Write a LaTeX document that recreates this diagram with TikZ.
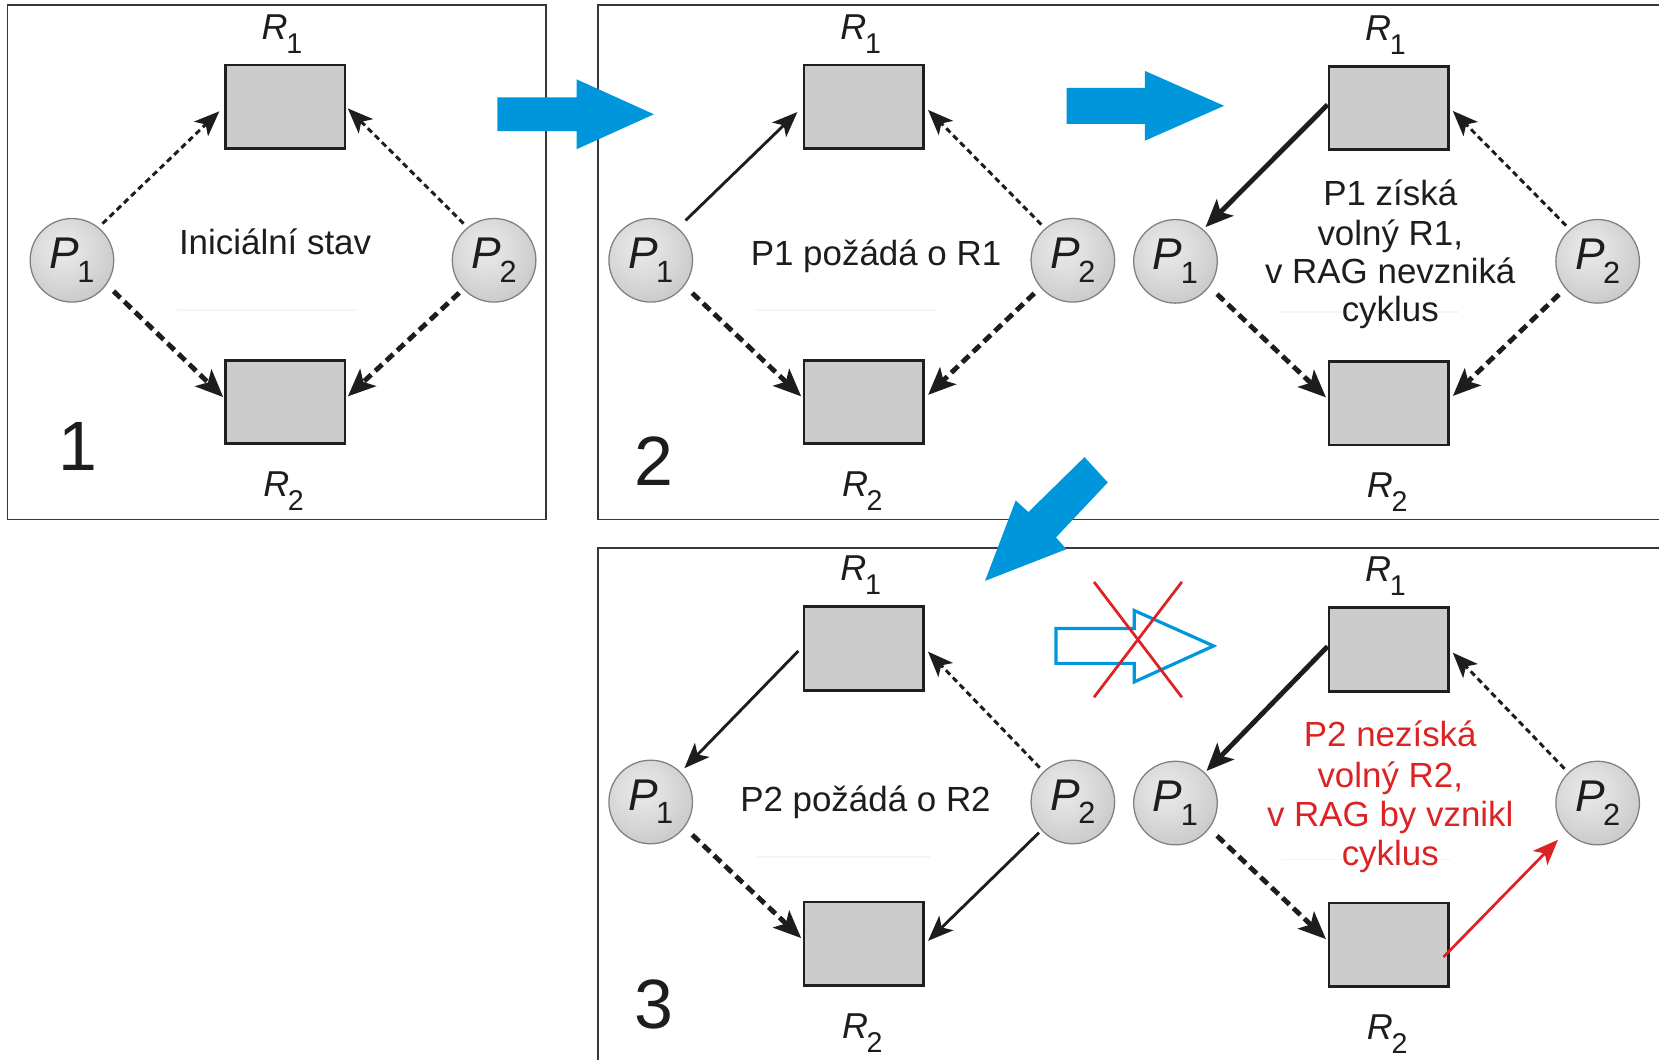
\documentclass[tikz,border=0pt]{standalone}
\usepackage{fontspec}
\setmainfont{Liberation Sans}
\usetikzlibrary{arrows.meta}
\definecolor{arrblue}{RGB}{0,150,219}
\definecolor{xred}{RGB}{220,35,35}
\definecolor{boxfill}{gray}{0.80}
\definecolor{framecol}{gray}{0.22}
\definecolor{inkcol}{RGB}{30,28,28}
\definecolor{sphA}{gray}{0.92}
\definecolor{sphB}{gray}{0.87}
\definecolor{sphC}{gray}{0.79}
\definecolor{sphD}{gray}{0.70}
\definecolor{sphE}{gray}{0.64}
\definecolor{sphO}{gray}{0.50}
\pgfdeclareradialshading{sphere}{\pgfpoint{-6bp}{8bp}}{color(0bp)=(sphA); color(14bp)=(sphB); color(32bp)=(sphC); color(48bp)=(sphD); color(62bp)=(sphE); color(90bp)=(sphE)}
\newcommand{\Plbl}[1]{{\fontsize{21}{21}\selectfont\itshape P}\kern-0.8pt\raisebox{-6.3pt}{\fontsize{14.5}{14.5}\selectfont #1}}
\newcommand{\Rlbl}[1]{{\fontsize{17}{17}\selectfont\itshape R}\kern-0.6pt\raisebox{-6.6pt}{\fontsize{13.5}{13.5}\selectfont #1}}
\begin{document}
\begin{tikzpicture}[x=0.5pt,y=-0.5pt,
  proc/.style={circle, minimum size=39.5pt, inner sep=0pt, draw=sphO, line width=0.6pt, shading=sphere, text=inkcol},
  res/.style={rectangle, minimum width=56.5pt, minimum height=39.5pt, inner sep=0pt, draw=black!88, line width=1.3pt, fill=boxfill},
  lbl/.style={inner sep=0pt, anchor=base, text=inkcol},
  txt/.style={inner sep=0pt, anchor=base, font=\fontsize{16.5}{18}\selectfont, text=inkcol},
  redtxt/.style={txt, text=xred},
  digit/.style={inner sep=0pt, anchor=base, font=\fontsize{33}{33}\selectfont, text=inkcol},
  frame/.style={draw=framecol, line width=0.75pt},
  faint/.style={draw=gray!8, line width=0.6pt},
  tipthin/.style={-{Stealth[length=12pt,width=9.5pt,inset=3pt]}},
  tipthick/.style={-{Stealth[length=13pt,width=11pt,inset=3pt]}},
  cthin/.style={tipthin, draw=inkcol, line width=1.4pt, dash pattern=on 2.8pt off 1.9pt},
  cthick/.style={tipthick, draw=inkcol, line width=2.3pt, dash pattern=on 4.5pt off 2.6pt},
  rthin/.style={tipthin, draw=inkcol, line width=1.35pt},
  athick/.style={tipthick, draw=inkcol, line width=2.3pt},
  redarr/.style={-{Stealth[length=12pt,width=9.5pt,inset=3pt]}, line width=1.3pt, draw=xred, color=xred}
]
\path[use as bounding box] (0,0) rectangle (1568,1001);
\clip (0,0) rectangle (1568,1001);

% frames
\draw[frame] (7,5) rectangle (516,491);
\draw[frame] (565,5) rectangle (1600,491);
\draw[frame] (565,518) rectangle (1600,1040);

% faint lines
\draw[faint] (167,293) -- (337,293);
\draw[faint] (714,293) -- (885,293);
\draw[faint] (1211,295) -- (1379,295);
\draw[faint] (714,810) -- (879,810);
\draw[faint] (1211,812) -- (1371,812);

% diagrams: nodes
\foreach \n/\x/\y in {a/68/246, b/615/246, c/1111/247, d/615/758, e/1111/759} {
  \node[proc] (\n-P1) at (\x,\y) {\Plbl{1}};
  \node[proc] (\n-P2) at (\x+399,\y) {\Plbl{2}};
  \node[res] (\n-R1) at (\x+201.5,\y-145) {};
  \node[res] (\n-R2) at (\x+201.5,\y+134) {};
  \node[lbl] (\n-L1) at (\x+198.5,\y-209) {\Rlbl{1}};
  \node[lbl] (\n-L2) at (\x+200,\y+223.6) {\Rlbl{2}};
}

% panel 1
\draw[cthin, shorten <=2.5pt, shorten >=3pt] (a-P1.51) -- (a-R1.west);
\draw[cthin, shorten <=2.5pt, shorten >=1pt] (a-P2.129) -- (a-R1.east);
\draw[cthick, shorten <=4.5pt, shorten >=0.5pt] (a-P1.-35) -- ([yshift=2pt]a-R2.west);
\draw[cthick, shorten <=2.5pt, shorten >=1pt] (a-P2.223) -- ([yshift=2pt]a-R2.east);

% panel 2 left
\draw[rthin, shorten <=5pt, shorten >=3.5pt] (b-P1.50) -- (b-R1.west);
\draw[cthin, shorten <=2.5pt, shorten >=2pt] (b-P2.131) -- (b-R1.east);
\draw[cthick, shorten <=5pt, shorten >=1pt] (b-P1.-37) -- ([yshift=2pt]b-R2.west);
\draw[cthick, shorten <=4pt, shorten >=2pt] (b-P2.220) -- ([yshift=2pt]b-R2.east);

% panel 2 right
\draw[athick, shorten >=1.5pt] ([yshift=1.5pt]c-R1.west) -- (c-P1.49);
\draw[cthin, shorten <=2.5pt, shorten >=2pt] (c-P2.131) -- (c-R1.east);
\draw[cthick, shorten <=5pt, shorten >=1pt] (c-P1.-37) -- ([yshift=2pt]c-R2.west);
\draw[cthick, shorten <=4pt, shorten >=2pt] (c-P2.220) -- ([yshift=2pt]c-R2.east);

% panel 3 left
\draw[rthin, shorten <=3pt, shorten >=2.5pt] ([yshift=1pt]d-R1.west) -- (d-P1.45);
\draw[cthin, shorten <=2.5pt, shorten >=2pt] (d-P2.134) -- (d-R1.east);
\draw[cthick, shorten <=5pt, shorten >=1pt] (d-P1.-37) -- ([yshift=2pt]d-R2.west);
\draw[rthin, shorten <=1.5pt, shorten >=2pt] (d-P2.222) -- (d-R2.east);

% panel 3 right
\draw[athick, shorten >=1pt] ([yshift=1.5pt]e-R1.west) -- (e-P1.46);
\draw[cthin, shorten <=2.5pt, shorten >=2pt] (e-P2.134) -- (e-R1.east);
\draw[cthick, shorten <=5pt, shorten >=1pt] (e-P1.-37) -- ([yshift=2pt]e-R2.west);
\draw[redarr, shorten >=5.5pt] ([shift={(-3pt,-5.75pt)}]e-R2.east) -- (e-P2.222);

% texts
\node[txt] (t1) at (260,241) {Iniciální stav};
\node[txt] (t2) at (828,250.5) {P1 požádá o R1};
\node[txt] (t3a) at (1314,194) {P1 získá};
\node[txt] (t3b) at (1314,231.6) {volný R1,};
\node[txt] (t3c) at (1314,268) {v RAG nevzniká};
\node[txt] (t3d) at (1314,304) {cyklus};
\node[txt] (t4) at (818,767) {P2 požádá o R2};
\node[redtxt] (t5a) at (1314,705.7) {P2 nezíská};
\node[redtxt] (t5b) at (1314,744) {volný R2,};
\node[redtxt] (t5c) at (1314,781) {v RAG by vznikl};
\node[redtxt] (t5d) at (1314,818) {cyklus};

\node[digit] (n1) at (74,445) {1};
\node[digit] (n2) at (618,459) {2};
\node[digit] (n3) at (618,972) {3};

% blue transition arrows
\fill[arrblue] (470,92) -- (545,92) -- (545,75) -- (618,108) -- (545,141) -- (545,124) -- (470,124) -- cycle;
\fill[arrblue] (1008,83) -- (1082,83) -- (1082,67) -- (1157,100) -- (1082,133) -- (1082,117) -- (1008,117) -- cycle;
\fill[arrblue] (1025,432) -- (972,484) -- (960,473) -- (931,549) -- (1008,519) -- (998,508) -- (1047,456) -- cycle;

% crossed-out outline arrow
\draw[arrblue, line width=1.5pt, line join=miter] (998,594) -- (1072,594) -- (1072,577) -- (1147,610.5) -- (1072,644.5) -- (1072,627) -- (998,627) -- cycle;
\draw[xred, line width=1.3pt] (1034,550) -- (1117,659);
\draw[xred, line width=1.3pt] (1117,550) -- (1034,659);
\end{tikzpicture}
\end{document}
